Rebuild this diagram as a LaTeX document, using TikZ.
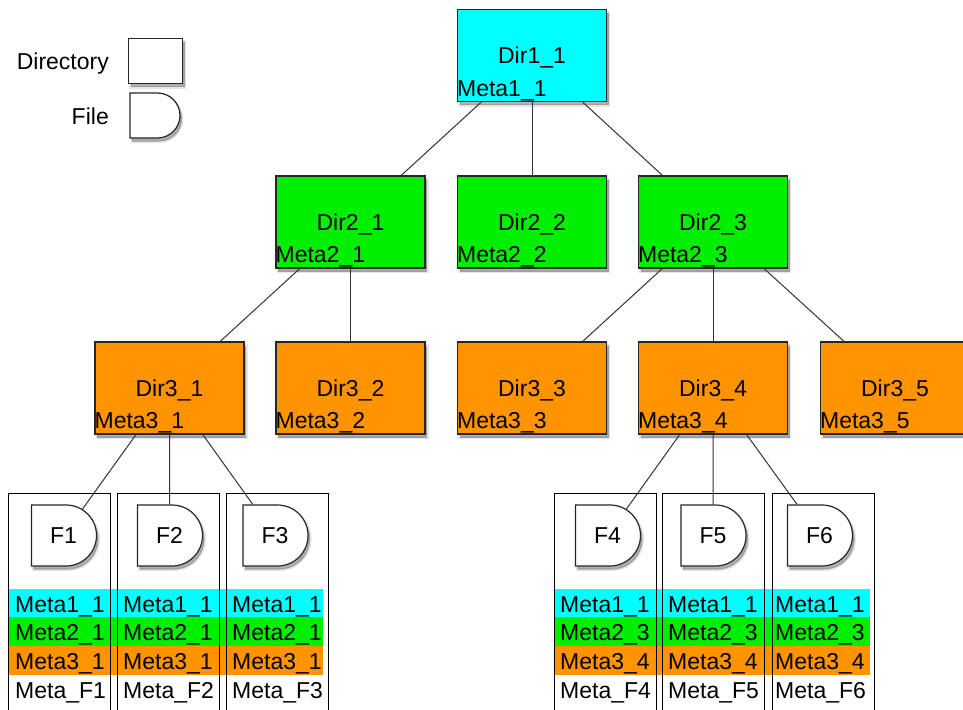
\documentclass[tikz,border=0pt]{standalone}
\usepackage{fontspec}
\setmainfont{Liberation Sans}
\usetikzlibrary{shapes.misc}
\definecolor{metacyan}{HTML}{00FFFF}
\definecolor{metagreen}{HTML}{00EE00}
\definecolor{metaorange}{HTML}{FF9300}

\tikzset{
  softshadow/.style={
    preaction={draw=black,line width=3pt,opacity=0.10,transform canvas={xshift=2pt,yshift=-3.5pt}},
    preaction={fill=black,opacity=0.30,transform canvas={xshift=2pt,yshift=-3.5pt}}},
  dirbox/.style={rectangle,draw=black!85,line width=1.2pt,minimum width=149pt,minimum height=92pt,inner sep=0pt,text depth=0pt,softshadow},
  dirmeta/.style={anchor=south west,inner xsep=0pt,inner ysep=1pt},
  filebox/.style={rounded rectangle,rounded rectangle left arc=none,draw=black!85,line width=1.2pt,fill=white,minimum width=65pt,minimum height=61pt,inner sep=0pt,text depth=0pt,softshadow},
  filecol/.style={draw=black,line width=0.9pt,anchor=north west,minimum width=102pt,minimum height=230pt,inner sep=0pt},
  metatext/.style={anchor=base west,inner sep=0pt},
  link/.style={draw=black!80,line width=1pt}
}

\begin{document}
\begin{tikzpicture}[x=1pt,y=-1pt,font=\fontsize{23}{27}\selectfont]
\useasboundingbox (0,0) rectangle (963,709);

% legend
\node (lgdir) at (109,70) [anchor=base east,inner sep=0pt] {Directory};
\node (lgdirbox) at (155.5,61) [dirbox,fill=white,minimum width=54pt,minimum height=45pt] {};
\node (lgfile) at (109,124) [anchor=base east,inner sep=0pt] {File};
\node (lgfilebox) at (155,115.5) [filebox,minimum width=50pt,minimum height=45pt] {};

% directories
\node (d11) at (532,55.5) [dirbox,fill=metacyan,label={[dirmeta]south west:Meta1\_1}] {Dir1\_1};
\node (d21) at (350.5,222) [dirbox,fill=metagreen,label={[dirmeta]south west:Meta2\_1}] {Dir2\_1};
\node (d22) at (532,222) [dirbox,fill=metagreen,label={[dirmeta]south west:Meta2\_2}] {Dir2\_2};
\node (d23) at (713,222) [dirbox,fill=metagreen,label={[dirmeta]south west:Meta2\_3}] {Dir2\_3};
\node (d31) at (169.5,388) [dirbox,fill=metaorange,label={[dirmeta]south west:Meta3\_1}] {Dir3\_1};
\node (d32) at (350.5,388) [dirbox,fill=metaorange,label={[dirmeta]south west:Meta3\_2}] {Dir3\_2};
\node (d33) at (532,388) [dirbox,fill=metaorange,label={[dirmeta]south west:Meta3\_3}] {Dir3\_3};
\node (d34) at (713,388) [dirbox,fill=metaorange,label={[dirmeta]south west:Meta3\_4}] {Dir3\_4};
\node (d35) at (895,388) [dirbox,fill=metaorange,label={[dirmeta]south west:Meta3\_5}] {Dir3\_5};

% metadata bands under the files
\fill[metacyan] (7.5,589) rectangle (323,617);
\fill[metagreen] (7.5,617) rectangle (323,646);
\fill[metaorange] (7.5,646) rectangle (323,675);
\fill[metacyan] (553.5,589) rectangle (870,617);
\fill[metagreen] (553.5,617) rectangle (870,646);
\fill[metaorange] (553.5,646) rectangle (870,675);

\node (m1a) at (15,612) [metatext] {Meta1\_1};
\node (m1b) at (15,640) [metatext] {Meta2\_1};
\node (m1c) at (15,669) [metatext] {Meta3\_1};
\node (m1d) at (15,698) [metatext] {Meta\_F1};
\node (m2a) at (123,612) [metatext] {Meta1\_1};
\node (m2b) at (123,640) [metatext] {Meta2\_1};
\node (m2c) at (123,669) [metatext] {Meta3\_1};
\node (m2d) at (123,698) [metatext] {Meta\_F2};
\node (m3a) at (232,612) [metatext] {Meta1\_1};
\node (m3b) at (232,640) [metatext] {Meta2\_1};
\node (m3c) at (232,669) [metatext] {Meta3\_1};
\node (m3d) at (232,698) [metatext] {Meta\_F3};
\node (m4a) at (560,612) [metatext] {Meta1\_1};
\node (m4b) at (560,640) [metatext] {Meta2\_3};
\node (m4c) at (560,669) [metatext] {Meta3\_4};
\node (m4d) at (560,698) [metatext] {Meta\_F4};
\node (m5a) at (668,612) [metatext] {Meta1\_1};
\node (m5b) at (668,640) [metatext] {Meta2\_3};
\node (m5c) at (668,669) [metatext] {Meta3\_4};
\node (m5d) at (668,698) [metatext] {Meta\_F5};
\node (m6a) at (775,612) [metatext] {Meta1\_1};
\node (m6b) at (775,640) [metatext] {Meta2\_3};
\node (m6c) at (775,669) [metatext] {Meta3\_4};
\node (m6d) at (775,698) [metatext] {Meta\_F6};

% file columns
\node (c1) at (7.5,493) [filecol] {};
\node (c2) at (116.5,493) [filecol] {};
\node (c3) at (226,493) [filecol] {};
\node (c4) at (553.5,493) [filecol] {};
\node (c5) at (662,493) [filecol] {};
\node (c6) at (771.5,493) [filecol] {};

% files
\node (f1) at (63.5,535.5) [filebox] {F1};
\node (f2) at (169.5,535.5) [filebox] {F2};
\node (f3) at (275,535.5) [filebox] {F3};
\node (f4) at (607.5,535.5) [filebox] {F4};
\node (f5) at (713,535.5) [filebox] {F5};
\node (f6) at (819.5,535.5) [filebox] {F6};

\draw[link] (d11) -- (d21);
\draw[link] (d11) -- (d22);
\draw[link] (d11) -- (d23);
\draw[link] (d21) -- (d31);
\draw[link] (d21) -- (d32);
\draw[link] (d23) -- (d33);
\draw[link] (d23) -- (d34);
\draw[link] (d23) -- (d35);
\draw[link] (d31) -- (f1);
\draw[link] (d31) -- (f2);
\draw[link] (d31) -- (f3);
\draw[link] (d34) -- (f4);
\draw[link] (d34) -- (f5);
\draw[link] (d34) -- (f6);

\end{tikzpicture}
\end{document}
